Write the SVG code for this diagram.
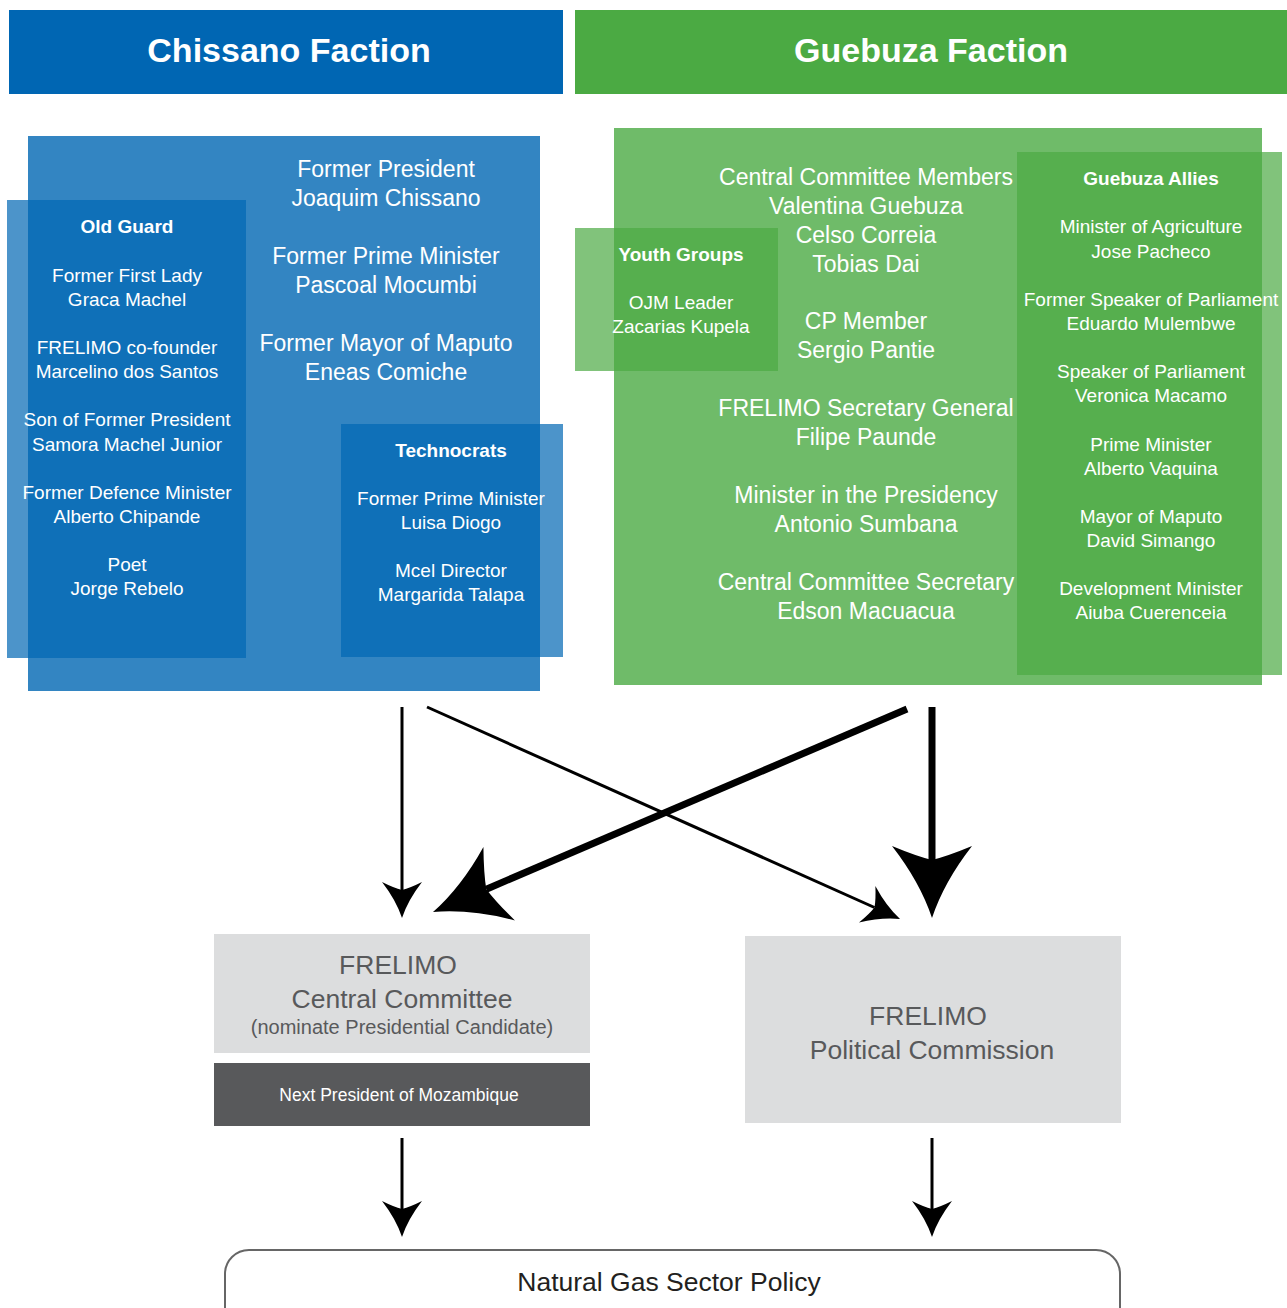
<svg xmlns="http://www.w3.org/2000/svg" width="1287" height="1308" viewBox="0 0 1287 1308">
<style>
text{font-family:"Liberation Sans",Arial,Helvetica,sans-serif;text-anchor:middle}
.hdr{fill:#fff;font-size:34px;font-weight:bold}
.w23{fill:#fff;font-size:23px}
.w19{fill:#fff;font-size:19px}
.wb{fill:#fff;font-size:19px;font-weight:bold}
.g26{fill:#58595b;font-size:26.5px}
.g20{fill:#58595b;font-size:20px}
.blueov{fill:#0066b3;opacity:0.7}
.greenov{fill:#4baa43;opacity:0.7}
.thin{stroke:#000;stroke-width:3;fill:none}
.thick{stroke:#000;stroke-width:7;fill:none}
</style>
<defs>
<marker id="hs" markerUnits="userSpaceOnUse" orient="auto" refX="0" refY="0" markerWidth="80" markerHeight="80" overflow="visible">
<path d="M28,0 Q10,-6 -8,-20 Q-2,-8 0,0 Q-2,8 -8,20 Q10,6 28,0 Z" fill="#000"/>
</marker>
<marker id="hb" markerUnits="userSpaceOnUse" orient="auto" refX="0" refY="0" markerWidth="160" markerHeight="160" overflow="visible">
<path d="M58,0 Q22,-12 -14,-40 Q-4,-16 0,0 Q-4,16 -14,40 Q22,12 58,0 Z" fill="#000"/>
</marker>
</defs>
<rect width="1287" height="1308" fill="#fff"/>

<g id="chissano-header">
<rect x="9" y="10" width="554" height="84" fill="#0066b3"/>
<text class="hdr" x="289" y="62">Chissano Faction</text>
</g>
<g id="guebuza-header">
<rect x="575" y="10" width="712" height="84" fill="#4baa43"/>
<text class="hdr" x="931" y="62">Guebuza Faction</text>
</g>

<g id="chissano-faction">
<rect x="28" y="136" width="512" height="555" fill="#0066b3" opacity="0.8"/>
<text class="w23" x="386" y="177">Former President</text>
<text class="w23" x="386" y="206">Joaquim Chissano</text>
<text class="w23" x="386" y="264">Former Prime Minister</text>
<text class="w23" x="386" y="293">Pascoal Mocumbi</text>
<text class="w23" x="386" y="351">Former Mayor of Maputo</text>
<text class="w23" x="386" y="380">Eneas Comiche</text>
</g>
<g id="old-guard">
<rect class="blueov" x="7" y="200" width="239" height="458"/>
<text class="wb" x="127" y="233">Old Guard</text>
<text class="w19" x="127" y="282">Former First Lady</text>
<text class="w19" x="127" y="306">Graca Machel</text>
<text class="w19" x="127" y="354">FRELIMO co-founder</text>
<text class="w19" x="127" y="378">Marcelino dos Santos</text>
<text class="w19" x="127" y="426">Son of Former President</text>
<text class="w19" x="127" y="451">Samora Machel Junior</text>
<text class="w19" x="127" y="499">Former Defence Minister</text>
<text class="w19" x="127" y="523">Alberto Chipande</text>
<text class="w19" x="127" y="571">Poet</text>
<text class="w19" x="127" y="595">Jorge Rebelo</text>
</g>
<g id="technocrats">
<rect class="blueov" x="341" y="424" width="222" height="233"/>
<text class="wb" x="451" y="457">Technocrats</text>
<text class="w19" x="451" y="505">Former Prime Minister</text>
<text class="w19" x="451" y="529">Luisa Diogo</text>
<text class="w19" x="451" y="577">Mcel Director</text>
<text class="w19" x="451" y="601">Margarida Talapa</text>
</g>

<g id="guebuza-faction">
<rect x="614" y="128" width="648" height="557" fill="#4baa43" opacity="0.8"/>
<text class="w23" x="866" y="185">Central Committee Members</text>
<text class="w23" x="866" y="214">Valentina Guebuza</text>
<text class="w23" x="866" y="243">Celso Correia</text>
<text class="w23" x="866" y="272">Tobias Dai</text>
<text class="w23" x="866" y="329">CP Member</text>
<text class="w23" x="866" y="358">Sergio Pantie</text>
<text class="w23" x="866" y="416">FRELIMO Secretary General</text>
<text class="w23" x="866" y="445">Filipe Paunde</text>
<text class="w23" x="866" y="503">Minister in the Presidency</text>
<text class="w23" x="866" y="532">Antonio Sumbana</text>
<text class="w23" x="866" y="590">Central Committee Secretary</text>
<text class="w23" x="866" y="619">Edson Macuacua</text>
</g>
<g id="youth-groups">
<rect class="greenov" x="575" y="228" width="203" height="143"/>
<text class="wb" x="681" y="261">Youth Groups</text>
<text class="w19" x="681" y="309">OJM Leader</text>
<text class="w19" x="681" y="333">Zacarias Kupela</text>
</g>
<g id="guebuza-allies">
<rect class="greenov" x="1017" y="152" width="265" height="523"/>
<text class="wb" x="1151" y="185">Guebuza Allies</text>
<text class="w19" x="1151" y="233">Minister of Agriculture</text>
<text class="w19" x="1151" y="258">Jose Pacheco</text>
<text class="w19" x="1151" y="306">Former Speaker of Parliament</text>
<text class="w19" x="1151" y="330">Eduardo Mulembwe</text>
<text class="w19" x="1151" y="378">Speaker of Parliament</text>
<text class="w19" x="1151" y="402">Veronica Macamo</text>
<text class="w19" x="1151" y="451">Prime Minister</text>
<text class="w19" x="1151" y="475">Alberto Vaquina</text>
<text class="w19" x="1151" y="523">Mayor of Maputo</text>
<text class="w19" x="1151" y="547">David Simango</text>
<text class="w19" x="1151" y="595">Development Minister</text>
<text class="w19" x="1151" y="619">Aiuba Cuerenceia</text>
</g>

<g id="central-committee">
<rect x="214" y="934" width="376" height="119" fill="#dcddde"/>
<text class="g26" x="398" y="974">FRELIMO</text>
<text class="g26" x="402" y="1008">Central Committee</text>
<text class="g20" x="402" y="1034">(nominate Presidential Candidate)</text>
</g>
<g id="next-president">
<rect x="214" y="1063" width="376" height="63" fill="#58595b"/>
<text x="399" y="1101" style="fill:#fff;font-size:17.5px">Next President of Mozambique</text>
</g>
<g id="political-commission">
<rect x="745" y="936" width="376" height="187" fill="#dcddde"/>
<text class="g26" x="928" y="1025">FRELIMO</text>
<text class="g26" x="932" y="1059">Political Commission</text>
</g>
<g id="gas-policy">
<rect x="225" y="1250" width="895" height="90" rx="24" ry="24" fill="#fff" stroke="#666" stroke-width="2"/>
<text x="669" y="1291" style="fill:#231f20;font-size:26.5px">Natural Gas Sector Policy</text>
</g>

<g id="connectors">
<line class="thin" x1="402" y1="707" x2="402" y2="890" marker-end="url(#hs)"/>
<line class="thin" x1="427" y1="707" x2="874.5" y2="907.5" marker-end="url(#hs)"/>
<line class="thick" x1="907" y1="709" x2="486.3" y2="889.2" marker-end="url(#hb)"/>
<line class="thick" x1="932" y1="707" x2="932" y2="860" marker-end="url(#hb)"/>
<line class="thin" x1="402" y1="1138" x2="402" y2="1209" marker-end="url(#hs)"/>
<line class="thin" x1="932" y1="1138" x2="932" y2="1209" marker-end="url(#hs)"/>
</g>
</svg>
